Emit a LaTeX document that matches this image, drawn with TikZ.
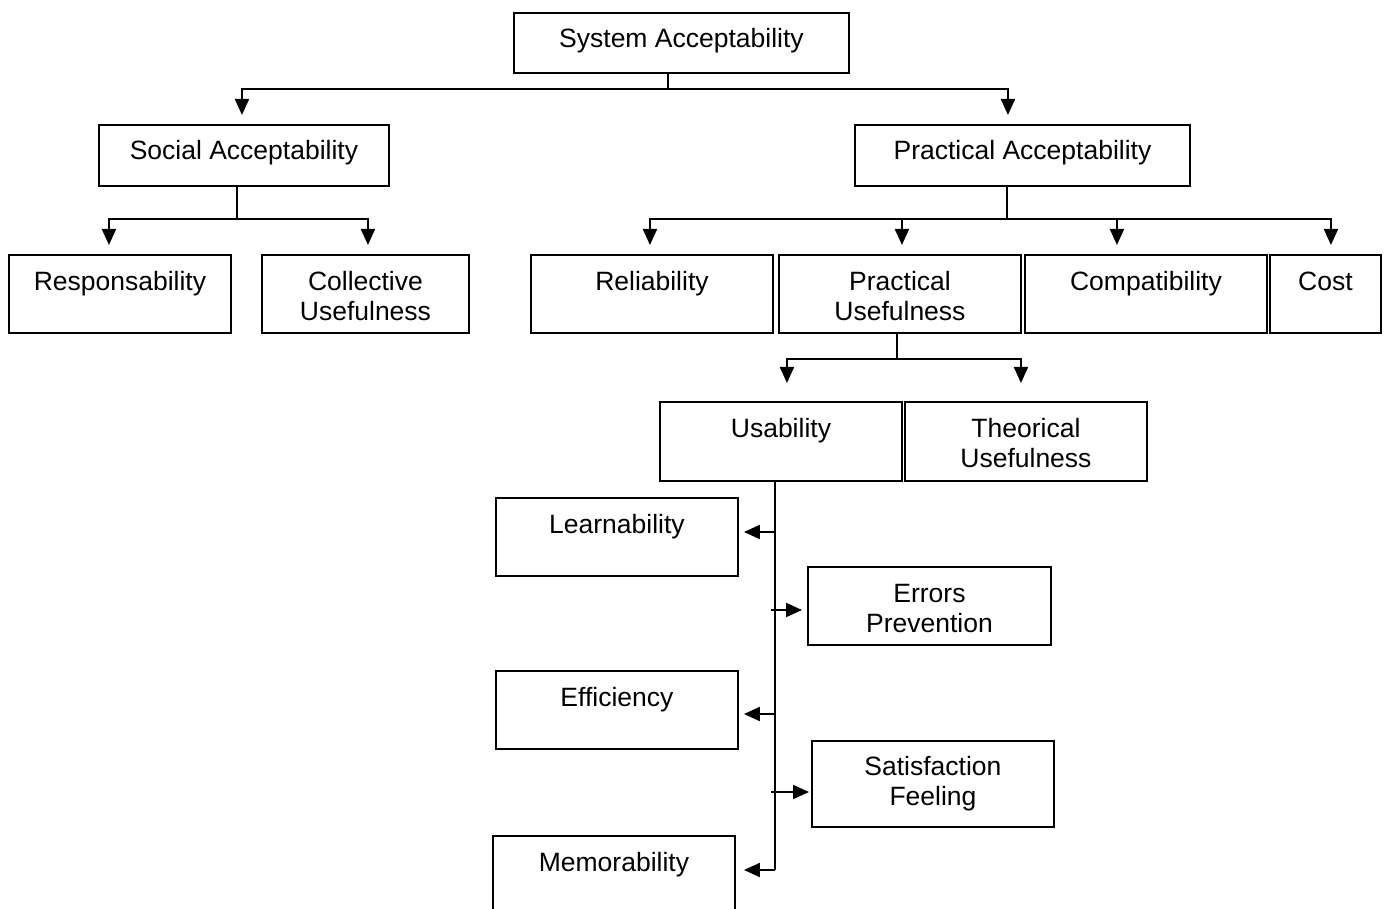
\documentclass[tikz,border=0pt]{standalone}
\usepackage{fontspec}
\setmainfont{Liberation Sans}
\usetikzlibrary{arrows.meta}
\newcommand{\twoline}[2]{\begin{tabular}[t]{@{}c@{}}#1\\#2\end{tabular}}
\begin{document}
\begin{tikzpicture}[x=1pt,y=-1pt,
  font=\fontsize{26.5}{30}\selectfont,
  bx/.style 2 args={draw, line width=1.9pt, inner sep=0pt, anchor=north west,
    minimum width=#1, text height=36pt, text depth=#2},
  ln/.style={line width=1.9pt},
  arr/.style={ln, -{Triangle[length=16pt,width=14pt]}}]
\useasboundingbox (0,0) rectangle (1385,909);
\clip (0,0) rectangle (1385,909);
\fill[white] (0,0) rectangle (1385,909);

% boxes
\node[bx={335pt}{25pt}, text height=35pt] (sys) at (513,12) {System Acceptability};
\node[bx={290pt}{26pt}, text height=35pt] (soc) at (98,124) {Social Acceptability};
\node[bx={335pt}{26pt}, text height=35pt] (prac) at (854,124) {Practical Acceptability};

\node[bx={222pt}{42pt}] (resp) at (8,254) {Responsability};
\node[bx={207pt}{42pt}] (coll) at (261,254) {\twoline{Collective}{Usefulness}};
\node[bx={242pt}{42pt}] (rel) at (530,254) {Reliability};
\node[bx={242pt}{42pt}] (pu) at (778,254) {\twoline{Practical}{Usefulness}};
\node[bx={242pt}{42pt}] (comp) at (1024,254) {Compatibility};
\node[bx={111pt}{42pt}] (cost) at (1269,254) {Cost};

\node[bx={242pt}{43pt}] (usab) at (659,401) {Usability};
\node[bx={242pt}{43pt}] (theo) at (904,401) {\twoline{Theorical}{Usefulness}};

\node[bx={242pt}{42pt}] (learn) at (495,497) {Learnability};
\node[bx={243pt}{42pt}] (err) at (807,566) {\twoline{Errors}{Prevention}};
\node[bx={242pt}{42pt}] (eff) at (495,670) {Efficiency};
\node[bx={242pt}{51pt}, text height=35pt] (sat) at (811,740) {\twoline{Satisfaction}{Feeling}};
\node[bx={242pt}{44pt}] (mem) at (492,835) {Memorability};

% connectors: system
\coordinate (j1) at (668,89);
\draw[ln] (sys.south -| j1) -- (j1);
\draw[arr, shorten >=9pt] (j1) -| ([xshift=-2pt]soc.north);
\draw[arr, shorten >=9pt] (j1) -| ([xshift=-14.5pt]prac.north);

% social
\coordinate (j2) at (237,219);
\draw[ln] (soc.south -| j2) -- (j2);
\draw[arr, shorten >=9pt] (j2) -| ([xshift=-11pt]resp.north);
\draw[arr, shorten >=9pt] (j2) -| ([xshift=2.5pt]coll.north);

% practical
\coordinate (j3) at (1007,219);
\draw[ln] (prac.south -| j3) -- (j3);
\draw[arr, shorten >=9pt] (j3) -| ([xshift=-2pt]rel.north);
\draw[arr, shorten >=9pt] (j3) -| ([xshift=2pt]pu.north);
\draw[arr, shorten >=9pt] (j3) -| ([xshift=-29pt]comp.north);
\draw[arr, shorten >=9pt] (j3) -| ([xshift=5.5pt]cost.north);

% practical usefulness
\coordinate (j4) at (897,359);
\draw[ln] (pu.south -| j4) -- (j4);
\draw[arr, shorten >=18pt] (j4) -| ([xshift=6pt]usab.north);
\draw[arr, shorten >=18pt] (j4) -| ([xshift=-5pt]theo.north);

% usability trunk
\coordinate (t0) at (775,870);
\draw[ln] (usab.south -| t0) -- (t0);
\draw[arr, shorten >=8pt] (t0) -- (t0 -| mem.east);
\coordinate (cl) at (775,532);
\draw[arr, shorten >=5pt] (cl) -- (cl -| learn.east);
\coordinate (ce) at (771,610);
\draw[arr, shorten >=5pt] (ce) -- (ce -| err.west);
\coordinate (cf) at (775,714);
\draw[arr, shorten >=5pt] (cf) -- (cf -| eff.east);
\coordinate (cs) at (771,792);
\draw[arr, shorten >=2pt] (cs) -- (cs -| sat.west);
\end{tikzpicture}
\end{document}
